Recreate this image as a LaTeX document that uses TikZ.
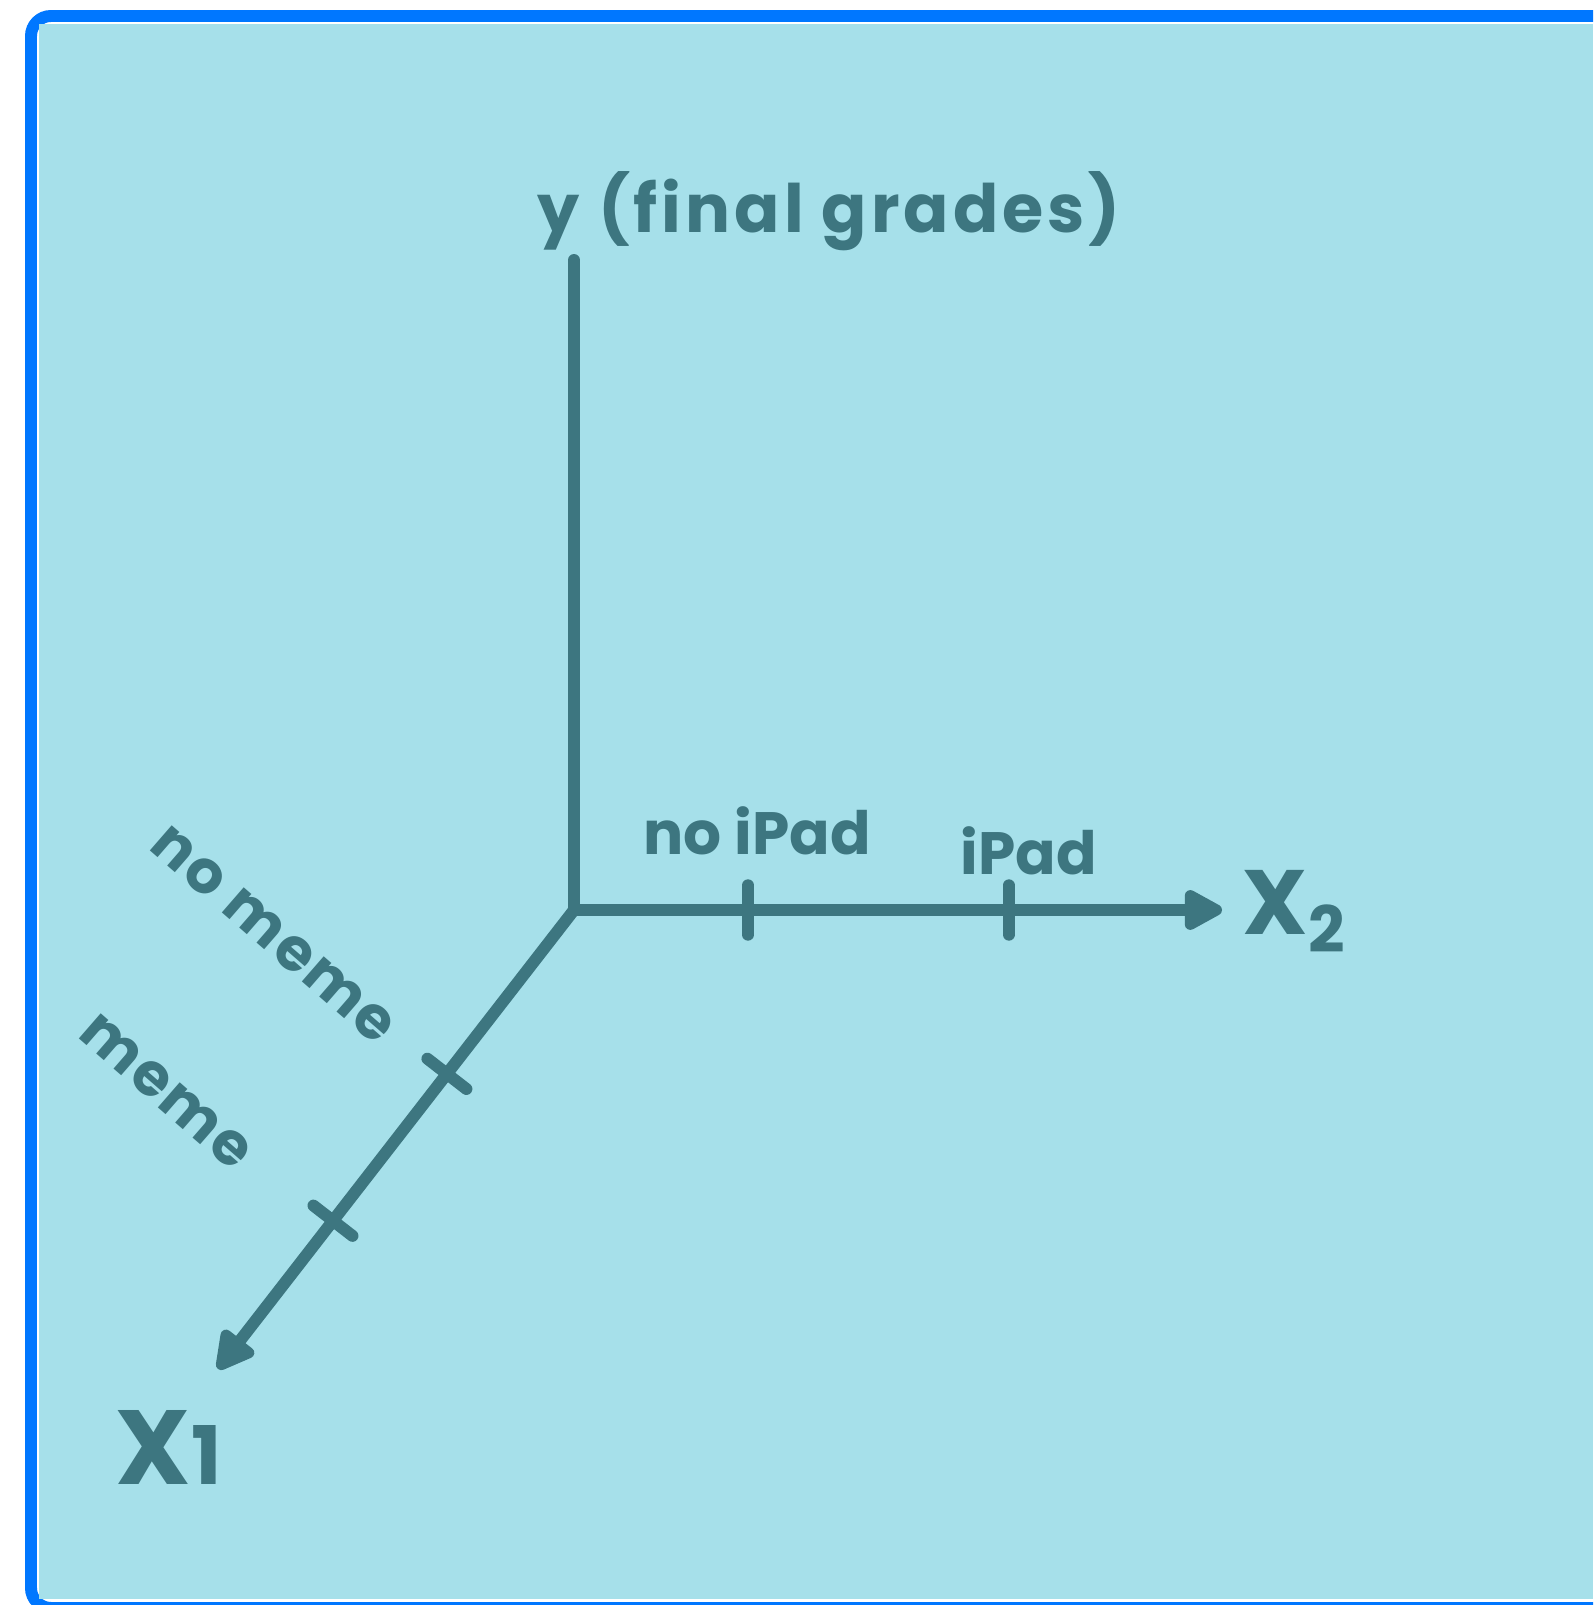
\documentclass[tikz,border=0pt]{standalone}
\usepackage{xcolor}
\usepackage{fontspec}
\setmainfont{Poppins}
\usepackage{tikz}
\usetikzlibrary{arrows.meta}
\definecolor{GradeTeal}{HTML}{3D7680}
\definecolor{GradeSky}{HTML}{A6E0EA}
\definecolor{GradeFrame}{HTML}{0077FF}

\begin{document}
\begin{tikzpicture}[every node/.style={font=\fontsize{19}{22}\selectfont\bfseries, text=GradeTeal, inner sep=0pt}]

    \tikzstyle{axis}=[
      GradeTeal,
      line width=3.4pt,
      line cap=round
    ]
    \tikzstyle{tip}=[-{Triangle[length=4.4mm, width=4.4mm, round]}]
    \tikzstyle{tick}=[inner sep=0pt, minimum width=0pt, minimum height=4.8mm, sloped]
    \tikzstyle{small}=[font=\fontsize{17}{20}\selectfont\bfseries]
    \tikzstyle{slant}=[font=\fontsize{17}{20}\selectfont\bfseries\addfontfeature{LetterSpace=4}, rotate=-41]
    \tikzstyle{big}=[font=\fontsize{26}{30}\selectfont\bfseries]

    % --- Frame ---
    \useasboundingbox (0,0) rectangle (15.93,16.05);
    \clip (0,0) rectangle (15.93,16.05);
    \fill[white] (0,0) rectangle (15.93,16.05);
    \draw[GradeFrame, line width=3.4pt, rounded corners=2mm] (0.31,15.89) rectangle (16.5,-0.03);
    \fill[GradeSky] (0.39,0.06) rectangle (15.93,15.81);

    % --- Axes ---
    \coordinate (o) at (5.74,6.95);
    \coordinate (ytop) at (5.74,13.45);
    \coordinate (xtwo) at (12.22,6.95);
    \coordinate (xone) at (2.18,2.36);

    \draw[axis] (o) -- (ytop);
    \draw[axis, tip] (o) -- (xtwo);
    \draw[axis, tip] (o) -- (xone);

    % --- Ticks ---
    \path (o) -- (xtwo)
      node[tick, pos=0.2685] (tnoipad) {}
      node[tick, pos=0.671] (tipad) {};
    \path (o) -- (xone)
      node[tick, pos=0.357] (tnomeme) {}
      node[tick, pos=0.677] (tmeme) {};
    \draw[axis] (tnoipad.north) -- (tnoipad.south);
    \draw[axis] (tipad.north) -- (tipad.south);
    \draw[axis] (tnomeme.north) -- (tnomeme.south);
    \draw[axis] (tmeme.north) -- (tmeme.south);

    % --- Labels ---
    \node[anchor=base west] (ylabel) at (5.37,13.72)
      {\addfontfeature{LetterSpace=6}y (final grades)};
    \node[small, anchor=base west] (noipad) at (6.43,7.50) {no iPad};
    \node[small, anchor=base west] (ipad) at (9.60,7.30) {iPad};
    \node[big, anchor=base west] (xtwolabel) at (12.42,6.70) {X\textsubscript{2}};
    \node[anchor=base west] (xonelabel) at (1.15,1.20)
      {\fontsize{30}{34}\selectfont X\fontsize{23}{26}\selectfont 1};
    \node[slant] (nomeme) at (2.73,6.70) {no meme};
    \node[slant] (meme) at (1.66,5.13) {meme};

  \end{tikzpicture}
\end{document}
